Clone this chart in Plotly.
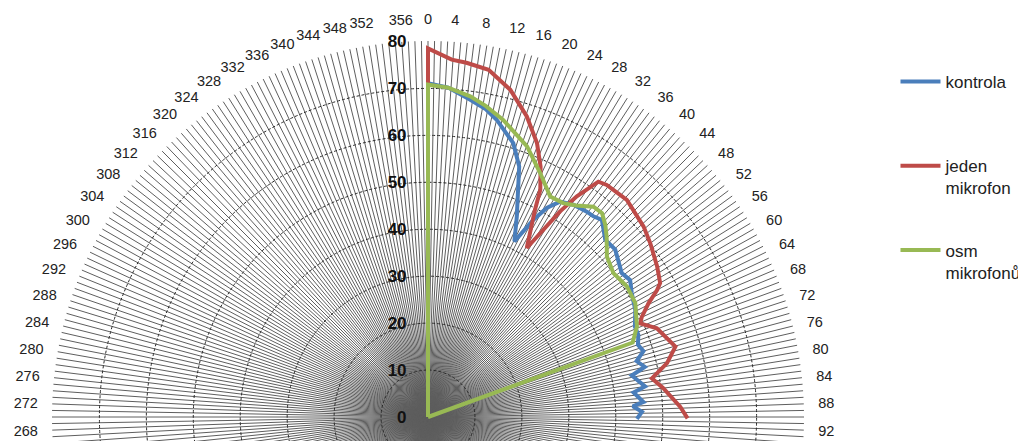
import plotly.graph_objects as go

# ---- data ----
kontrola_theta = [0, 0, 3.5, 7.5, 10.5, 13, 17.3, 20, 23.9, 26.2, 28.1, 29.6, 31.5, 34.4, 37.7,
                  39.5, 41.4, 45, 48.2, 53.4, 55.9, 58.7, 62.7, 66.4, 68.7, 71, 73, 75, 77,
                  78.5, 82, 83.2, 86, 87, 88.6, 90.5]
kontrola_r = [0, 71.1, 70.3, 68.2, 66.8, 65.0, 61.1, 56.8, 46.7, 41.7, 47.6, 51.2, 53.8, 54.8, 55.3,
              55.4, 56.0, 53.4, 53.5, 51.4, 52.0, 50.8, 49.7, 48.1, 48.1, 47.3, 48.0, 46.0, 47.4,
              44.3, 46.7, 44.1, 46.0, 43.7, 45.6, 44.5]

jeden_theta = [0, 0, 3.8, 6.2, 9.9, 14.1, 18.2, 21.7, 24.2, 26.3, 27.3, 30.3, 32.7, 34, 35.9,
               37.6, 42.5, 48.5, 52, 56.7, 60, 61, 62.7, 64.9, 66.2, 68.8, 74.1, 77.3, 80.2,
               83, 87.7, 90.3]
jeden_r = [0, 78.5, 76.3, 75.9, 75.1, 71.9, 67.4, 62.8, 58.5, 54.0, 49.7, 41.7, 52.0, 56.7, 61.9,
           62.4, 62.7, 61.3, 60.1, 58.4, 57.1, 55.8, 52.9, 50.3, 49.4, 52.3, 54.8, 52.2, 48.4,
           50.5, 53.8, 55.3]

osm_theta = [0, 0, 3.5, 7.5, 10.5, 14.2, 20.1, 24.7, 29, 32.3, 35, 38.2, 40.5, 42.7, 44.7,
             48.1, 52.2, 56.7, 61.2, 66.6, 70, 71]
osm_r = [0, 70.8, 70.3, 68.9, 67.4, 65.3, 61.4, 57.2, 53.7, 53.9, 55.0, 57.0, 57.1, 55.7, 54.1,
         51.2, 50.0, 50.7, 50.4, 48.5, 46.4, 0]

series_names = ["kontrola<br>\u00a0", "jeden<br>mikrofon", "osm<br>mikrofonů"]
series_colors = ["#4A7EBB", "#BE4B48", "#98B954"]

angle_ticks = list(range(0, 360))
angle_labels = [str(a) if a % 4 == 0 else "" for a in angle_ticks]
radial_ticks = [0, 10, 20, 30, 40, 50, 60, 70, 80]

FONT = "Liberation Sans, Arial, sans-serif"

fig = go.Figure()
for name, th, rr, col in zip(series_names,
                             [kontrola_theta, jeden_theta, osm_theta],
                             [kontrola_r, jeden_r, osm_r],
                             series_colors):
    fig.add_trace(go.Scatterpolar(
        theta=th, r=rr, mode="lines", name=name, legendgroup=name,
        line=dict(color=col, width=4), hoverinfo="skip"))

W, H = 1026, 860
cx, cy, R = 420, 409, 376
fig.update_layout(
    width=W, height=H,
    margin=dict(l=0, r=0, t=0, b=0),
    paper_bgcolor="white",
    font=dict(family=FONT, color="#222"),
    polar=dict(
        domain=dict(x=[(cx - R) / W, (cx + R) / W], y=[1 - (cy + R) / H, 1 - (cy - R) / H]),
        bgcolor="white",
        angularaxis=dict(
            rotation=90, direction="clockwise", thetaunit="degrees",
            tickmode="array", tickvals=angle_ticks, ticktext=angle_labels,
            ticks="outside", ticklen=11, tickcolor="rgba(0,0,0,0)", showline=False,
            showgrid=True, gridcolor="#5e5e5e", gridwidth=0.8,
            tickfont=dict(size=14.5, color="#222", family=FONT),
        ),
        radialaxis=dict(
            range=[0, 80.1], tickmode="array", tickvals=radial_ticks,
            angle=90, side="counterclockwise", tickangle=90,
            showline=False, ticks="outside", ticklen=15, tickcolor="rgba(0,0,0,0)",
            showgrid=True, gridcolor="#2a2a2a", gridwidth=1, griddash="3px,2px",
            tickfont=dict(size=17, color="#111", family=FONT, weight="bold"),
        ),
    ),
    legend=dict(
        x=0.865, y=1 - 56 / H, xanchor="left", yanchor="top",
        font=dict(size=17, family=FONT, color="#222"),
        tracegroupgap=37, valign="top", bgcolor="rgba(0,0,0,0)", itemwidth=40,
    ),
    showlegend=True,
)

fig.write_html("out.html")
